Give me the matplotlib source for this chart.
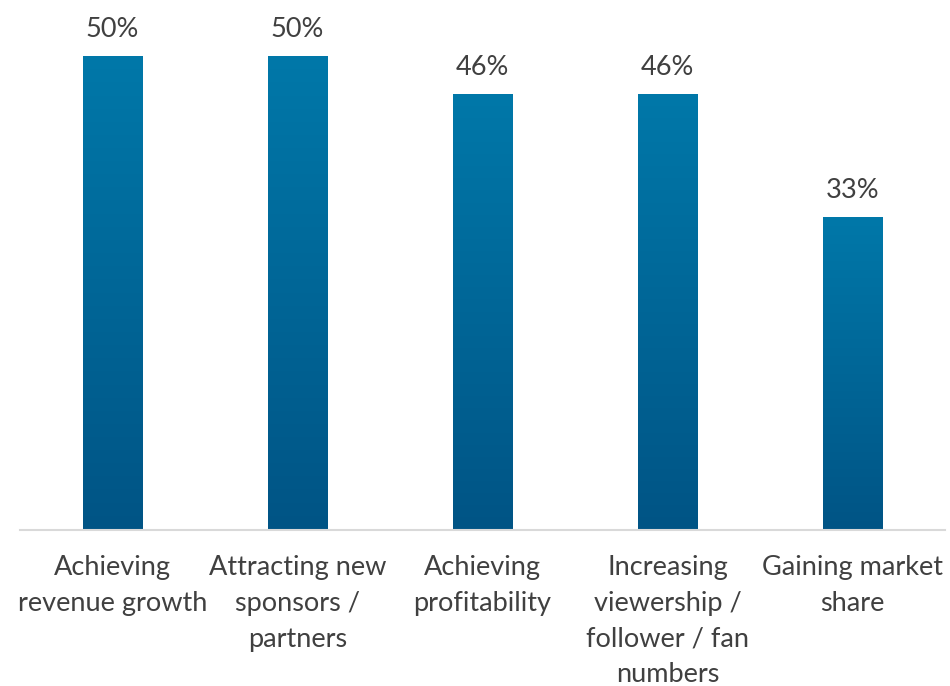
import numpy as np
import matplotlib.pyplot as plt
from matplotlib.colors import LinearSegmentedColormap

categories = [
    "Achieving\nrevenue growth",
    "Attracting new\nsponsors /\npartners",
    "Achieving\nprofitability",
    "Increasing\nviewership /\nfollower / fan\nnumbers",
    "Gaining market\nshare",
]
values = [50, 50, 46, 46, 33]

plt.rcParams["font.family"] = ["Lato", "DejaVu Sans"]
text_color = "#404040"

fig = plt.figure(figsize=(9.5, 6.86), dpi=100)
ax = fig.add_axes([20 / 950, 156 / 686, 925 / 950, 530 / 686])

x = np.arange(len(values))
bars = ax.bar(x, values, width=0.32, color="none", zorder=2)

# vertical gradient inside each bar
cmap = LinearSegmentedColormap.from_list("bar", ["#005485", "#0078A9"])
grad = np.linspace(0, 1, 256).reshape(-1, 1)
for b in bars:
    x0, y0 = b.get_x(), b.get_y()
    w, h = b.get_width(), b.get_height()
    im = ax.imshow(grad, cmap=cmap, aspect="auto", origin="lower",
                   extent=[x0, x0 + w, y0, y0 + h], zorder=2)
    im.set_clip_path(b)

for xi, v in zip(x, values):
    ax.text(xi, v + 1.5, f"{v}%", ha="center", va="bottom",
            fontsize=19.5, color=text_color)

ax.set_xlim(-0.5, len(values) - 0.5)
ax.set_ylim(0, 55.9)
ax.set_xticks(x)
ax.set_xticklabels(categories, fontsize=19.5, color=text_color, linespacing=1.54)
ax.tick_params(axis="x", length=0, pad=18)
ax.set_yticks([])
for s in ["top", "left", "right"]:
    ax.spines[s].set_visible(False)
ax.spines["bottom"].set_color("#D9D9D9")
ax.spines["bottom"].set_linewidth(1.5)

fig.savefig("out.png", dpi=100)
